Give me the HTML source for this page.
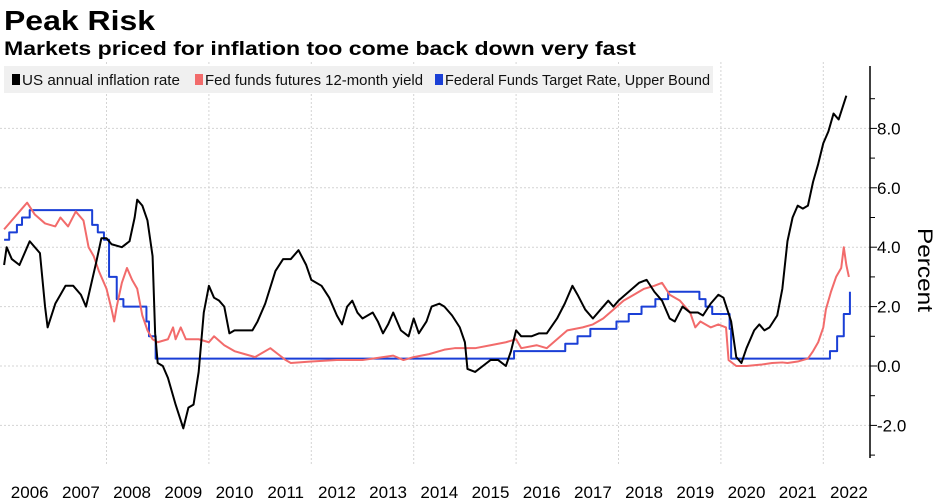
<!DOCTYPE html>
<html><head><meta charset="utf-8"><style>
body{margin:0;background:#fff;width:935px;height:502px;overflow:hidden;font-family:"Liberation Sans",sans-serif}
svg{position:absolute;left:0;top:0}
</style></head><body>
<svg id="c" width="935" height="502">
<text x="4" y="30" font-size="28" font-weight="bold" textLength="151" lengthAdjust="spacingAndGlyphs">Peak Risk</text>
<text x="4" y="55" font-size="19" font-weight="bold" textLength="632" lengthAdjust="spacingAndGlyphs">Markets priced for inflation too come back down very fast</text>
</svg>
<script>
const yTicks=[8,6,4,2,0,-2];
const yTickLabels=["8.0","6.0","4.0","2.0","0.0","-2.0"];
const years=[2006,2007,2008,2009,2010,2011,2012,2013,2014,2015,2016,2017,2018,2019,2020,2021,2022];
const cpiT=[2006.0,2006.05,2006.15,2006.3,2006.5,2006.7,2006.8,2006.85,2007.0,2007.1,2007.2,2007.35,2007.5,2007.6,2007.8,2007.9,2008.0,2008.1,2008.3,2008.45,2008.55,2008.6,2008.7,2008.8,2008.9,2008.95,2009.0,2009.1,2009.2,2009.35,2009.5,2009.6,2009.7,2009.8,2009.9,2010.0,2010.1,2010.2,2010.3,2010.4,2010.5,2010.7,2010.85,2010.95,2011.1,2011.3,2011.45,2011.6,2011.75,2011.9,2012.0,2012.2,2012.35,2012.5,2012.6,2012.7,2012.8,2012.9,2013.0,2013.2,2013.3,2013.4,2013.5,2013.6,2013.75,2013.9,2014.0,2014.1,2014.25,2014.35,2014.5,2014.6,2014.75,2014.9,2015.0,2015.05,2015.2,2015.35,2015.5,2015.65,2015.8,2015.9,2016.0,2016.1,2016.3,2016.45,2016.6,2016.8,2016.95,2017.1,2017.2,2017.35,2017.5,2017.65,2017.8,2017.9,2018.0,2018.2,2018.4,2018.55,2018.7,2018.85,2019.0,2019.1,2019.25,2019.4,2019.55,2019.65,2019.8,2019.95,2020.05,2020.2,2020.3,2020.4,2020.5,2020.65,2020.75,2020.85,2020.95,2021.1,2021.2,2021.3,2021.4,2021.5,2021.6,2021.7,2021.8,2021.9,2022.0,2022.1,2022.2,2022.3,2022.45];
const cpiV=[3.4,4.0,3.6,3.4,4.2,3.8,2.0,1.3,2.1,2.4,2.7,2.7,2.4,2.0,3.5,4.3,4.3,4.1,4.0,4.2,5.0,5.6,5.4,4.9,3.7,1.1,0.1,0.0,-0.4,-1.3,-2.1,-1.4,-1.3,-0.2,1.8,2.7,2.3,2.2,2.0,1.1,1.2,1.2,1.2,1.5,2.1,3.2,3.6,3.6,3.9,3.4,2.9,2.7,2.3,1.7,1.4,2.0,2.2,1.8,1.6,1.8,1.5,1.1,1.4,1.8,1.2,1.0,1.6,1.1,1.5,2.0,2.1,2.0,1.7,1.3,0.8,-0.1,-0.2,0.0,0.2,0.2,0.0,0.5,1.2,1.0,1.0,1.1,1.1,1.6,2.1,2.7,2.4,1.9,1.6,1.9,2.2,2.0,2.2,2.5,2.8,2.9,2.5,2.2,1.6,1.5,2.0,1.8,1.8,1.7,2.1,2.4,2.3,1.5,0.3,0.1,0.6,1.2,1.4,1.2,1.3,1.7,2.6,4.2,5.0,5.4,5.3,5.4,6.2,6.8,7.5,7.9,8.5,8.3,9.1];
const futT=[2006.0,2006.2,2006.35,2006.45,2006.6,2006.8,2007.0,2007.1,2007.25,2007.4,2007.55,2007.65,2007.75,2007.85,2008.0,2008.1,2008.15,2008.2,2008.3,2008.4,2008.5,2008.6,2008.7,2008.8,2008.9,2009.0,2009.2,2009.3,2009.35,2009.45,2009.55,2009.8,2010.0,2010.1,2010.3,2010.5,2010.7,2010.9,2011.0,2011.2,2011.35,2011.5,2011.6,2012.0,2012.5,2013.0,2013.4,2013.6,2013.8,2014.0,2014.3,2014.6,2014.8,2015.0,2015.2,2015.5,2015.8,2016.0,2016.1,2016.4,2016.6,2016.8,2017.0,2017.3,2017.5,2017.7,2017.9,2018.1,2018.3,2018.5,2018.7,2018.85,2019.0,2019.2,2019.4,2019.5,2019.6,2019.8,2019.95,2020.1,2020.15,2020.3,2020.5,2020.8,2021.0,2021.2,2021.3,2021.5,2021.7,2021.8,2021.9,2022.0,2022.05,2022.15,2022.25,2022.35,2022.4,2022.45,2022.5];
const futV=[4.6,5.0,5.3,5.5,5.1,4.8,4.7,5.0,4.7,5.2,4.9,4.0,3.7,3.2,2.6,1.9,1.5,2.0,2.8,3.3,2.9,2.6,1.7,1.2,0.9,0.8,0.9,1.3,0.9,1.3,0.9,0.9,0.8,1.0,0.7,0.5,0.4,0.3,0.4,0.6,0.4,0.2,0.1,0.15,0.2,0.2,0.3,0.35,0.2,0.3,0.4,0.55,0.6,0.6,0.6,0.7,0.8,0.9,0.6,0.7,0.6,0.9,1.2,1.3,1.4,1.6,1.9,2.2,2.4,2.6,2.7,2.8,2.4,2.2,1.8,1.3,1.5,1.3,1.4,1.3,0.2,0.0,0.0,0.05,0.1,0.12,0.1,0.15,0.25,0.5,0.8,1.3,1.9,2.5,3.0,3.3,4.0,3.4,3.0];
const fedT=[2006.0,2006.1,2006.25,2006.35,2006.5,2007.72,2007.83,2007.95,2008.05,2008.2,2008.33,2008.78,2008.83,2008.96,2015.96,2016.96,2017.2,2017.45,2017.96,2018.2,2018.45,2018.72,2018.97,2019.58,2019.7,2019.83,2020.17,2020.2,2022.13,2022.27,2022.4,2022.52];
const fedV=[4.25,4.5,4.75,5.0,5.25,4.75,4.5,4.25,3.0,2.25,2.0,1.5,1.0,0.25,0.5,0.75,1.0,1.25,1.5,1.75,2.0,2.25,2.5,2.25,2.0,1.75,1.25,0.25,0.5,1.0,1.75,2.5];

const NS="http://www.w3.org/2000/svg";
const svg=document.getElementById('c');
const X=t=>106.5+(t-2008)*51.2;
const Y=v=>366-v*29.7;
function mk(tag,attrs,parent){const e=document.createElementNS(NS,tag);for(const k in attrs)e.setAttribute(k,attrs[k]);(parent||svg).appendChild(e);return e;}
for(let i=0;i<yTicks.length;i++){
  const g=mk('line',{x1:0,x2:870,y1:Y(yTicks[i]),y2:Y(yTicks[i]),stroke:'#d4d4d4','stroke-dasharray':'2,2'});
  
  
}
for(let y=2008;y<=2022;y+=2){
  const g=mk('line',{x1:X(y),x2:X(y),y1:62,y2:465,stroke:'#d4d4d4','stroke-dasharray':'2,2'});
  
  
}
const lg=mk('g',{});


mk('rect',{x:4,y:66,width:709,height:27,fill:'#f0f0f0'},lg);
const entries=[["US annual inflation rate","#000",12,158],["Fed funds futures 12-month yield","#f26b6b",195,218],["Federal Funds Target Rate, Upper Bound","#1a3fd6",435,265]];
entries.forEach(e=>{
  const g=mk('g',{},lg);
  
  
  mk('rect',{x:e[2],y:74,width:8,height:11,fill:e[1]},g);
  const t=mk('text',{x:e[2]+10,y:85,'font-size':'14.5','fill':'#111',textLength:e[3],lengthAdjust:'spacingAndGlyphs'},g);
  t.textContent=e[0];
});
function line(ts,vs,color,name,step){
  let d='';
  for(let i=0;i<ts.length;i++){
    if(i===0)d+='M'+X(ts[i])+','+Y(vs[i]);
    else if(step)d+='H'+X(ts[i])+'V'+Y(vs[i]);
    else d+='L'+X(ts[i])+','+Y(vs[i]);
  }
  const p=mk('path',{d:d,fill:'none',stroke:color,'stroke-width':2,'stroke-linejoin':'round'});
  
  
}
line(fedT,fedV,'#1a3fd6','fed-target-line',true);
line(futT,futV,'#f26b6b','fed-futures-line',false);
line(cpiT,cpiV,'#000','inflation-line',false);
const ax=mk('line',{x1:870,x2:870,y1:66,y2:458,stroke:'#000','stroke-width':1.5});


for(let v=-3;v<=9;v++){
  mk('line',{x1:870,x2:v%2===0?877:875,y1:Y(v),y2:Y(v),stroke:'#000'});
}
for(let i=0;i<yTicks.length;i++){
  const t=mk('text',{x:877,y:Y(yTicks[i])+6,'font-size':'17',fill:'#000'});
  
  
  t.textContent=yTickLabels[i];
}
const pt=mk('text',{x:0,y:0,'font-size':'21',fill:'#000',transform:'translate(918,270) rotate(90)','text-anchor':'middle',textLength:84,lengthAdjust:'spacingAndGlyphs'});


pt.textContent='Percent';
years.forEach(y=>{
  const t=mk('text',{x:X(y+0.5),y:498,'font-size':'17',fill:'#000','text-anchor':'middle'});
  
  
  t.textContent=y;
});
</script>
</body></html>
